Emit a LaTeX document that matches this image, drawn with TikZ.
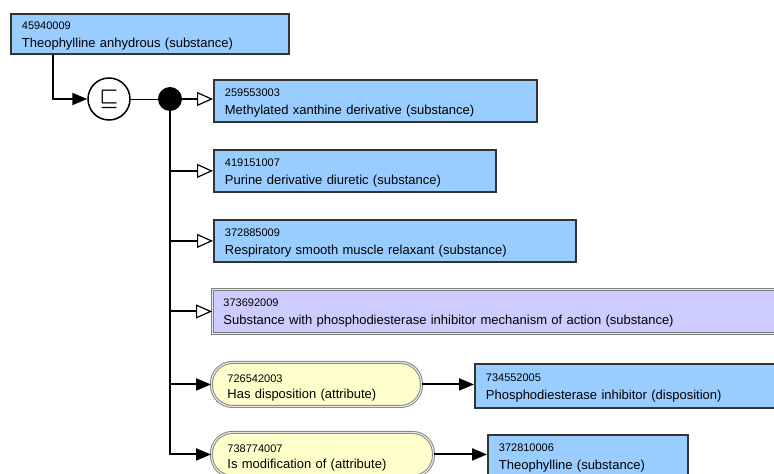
\documentclass[tikz,border=0pt]{standalone}
\usepackage{fontspec}
\setmainfont{Liberation Sans}
\usetikzlibrary{arrows.meta}

\definecolor{conceptblue}{RGB}{153,204,255}
\definecolor{definedlilac}{RGB}{204,204,255}
\definecolor{attrcream}{RGB}{255,255,204}
\definecolor{boxline}{RGB}{51,51,51}
\definecolor{ringgray}{RGB}{128,128,128}

\newcommand{\sctid}[1]{{\fontsize{11}{13}\selectfont\rule{0pt}{11pt}#1}}
\newcommand{\attrid}[1]{{\fontsize{11}{13}\selectfont\rule{0pt}{15pt}#1}}

\begin{document}
\begin{tikzpicture}[x=1pt,y=-1pt,
  concept/.style={draw=boxline,line width=1.8pt,fill=conceptblue,anchor=north west,
    minimum height=#1,align=left,inner xsep=11pt,inner ysep=0pt,
    font=\fontsize{13}{18}\selectfont},
  concept/.default=42pt,
  defined/.style={concept=44pt,draw=ringgray,fill=definedlilac,line width=0.9pt,
    double=white!80!ringgray,double distance=1.2pt},
  attribute/.style={draw=ringgray,line width=0.9pt,double=white!80!ringgray,
    double distance=1.2pt,fill=attrcream,rounded corners=21pt,anchor=north west,
    minimum height=44pt,align=left,inner xsep=16pt,inner ysep=0pt,
    font=\fontsize{13}{16}\selectfont},
  isa/.style={line width=2pt,-{Triangle[open,length=16pt,width=14pt,line width=1.2pt]}},
  rel/.style={line width=2pt,-{Triangle[length=15pt,width=12pt]}}]
\useasboundingbox (0,0) rectangle (774,474);
\clip (0,0) rectangle (774,474);

% focus concept
\node[concept=40pt,text width=256pt] (top) at (10,13)
  {\sctid{45940009}\\Theophylline anhydrous (substance)};

\node[circle,draw,line width=1.5pt,fill=white,minimum size=42pt,inner sep=0pt,
  font={\huge\boldmath}] (subs) at (109,99) {$\sqsubseteq$};
\node[circle,fill=black,minimum size=24pt,inner sep=0pt] (conj) at (170,99) {};

% parents
\node[concept,text width=301pt] (methyl) at (213,79)
  {\sctid{259553003}\\Methylated xanthine derivative (substance)};
\node[concept,text width=260pt] (purine) at (213,149)
  {\sctid{419151007}\\Purine derivative diuretic (substance)};
\node[concept,text width=340pt] (relax) at (213,219)
  {\sctid{372885009}\\Respiratory smooth muscle relaxant (substance)};
\node[defined,text width=560pt] (pdeinh) at (212,289)
  {\sctid{373692009}\\Substance with phosphodiesterase inhibitor mechanism of action (substance)};

% attributes
\node[attribute,text width=178pt] (hasdisp) at (211,362)
  {\attrid{726542003}\\Has disposition (attribute)};
\node[attribute,text width=190pt] (ismod) at (211,432)
  {\attrid{738774007}\\Is modification of (attribute)};
\node[concept=44pt,text width=300pt] (dispval) at (474,363)
  {\sctid{734552005}\\Phosphodiesterase inhibitor (disposition)};
\node[concept=42pt,text width=178pt] (modval) at (487,434)
  {\sctid{372810006}\\Theophylline (substance)};

% connectors
\draw[rel] ([xshift=43pt]top.south west) |- (subs.west);
\draw[line width=1pt] (subs.east) -- (conj);
\draw[isa] (conj) -- (conj -| methyl.west);
\draw[isa] (conj) |- (purine.west);
\draw[isa] (conj) |- (relax.west);
\draw[isa] (conj) |- (pdeinh.west);
\draw[rel] (conj) |- (hasdisp.west);
\draw[rel] (conj) |- (ismod.west);
\draw[rel] (hasdisp.east) -- (hasdisp.east -| dispval.west);
\draw[rel] (ismod.east) -- (ismod.east -| modval.west);
\end{tikzpicture}
\end{document}
